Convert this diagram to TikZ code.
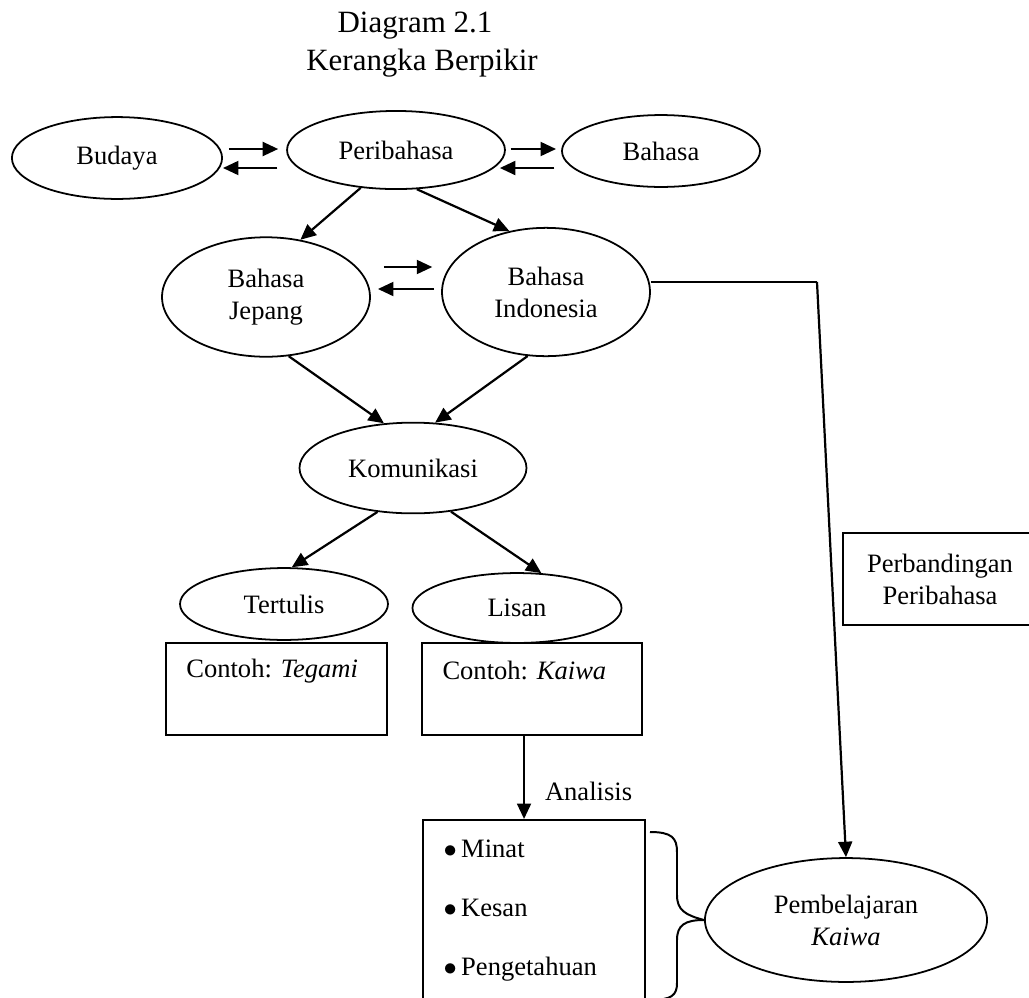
\documentclass[tikz,border=0pt,12pt]{standalone}
\usepackage{fontspec}
\setmainfont{Liberation Serif}
\usetikzlibrary{arrows.meta, positioning, shapes.geometric, calc}

\tikzset{
  oval/.style={draw, ellipse, line width=0.8pt, inner sep=0pt, align=center},
  textbox/.style={draw, rectangle, line width=0.9pt, inner sep=0pt},
  arr/.style={-{Triangle[length=7pt,width=6.3pt]}, line width=1pt},
}

\begin{document}
\begin{tikzpicture}[x=0.452pt, y=-0.452pt]
        \useasboundingbox (0,0) rectangle (1029,998);

        % Title
        \node[font=\fontsize{14}{17}\selectfont, anchor=base] (title) at (415,32) {Diagram 2.1};
        \node[font=\fontsize{14}{17}\selectfont, anchor=base] (subtitle) at (422,70) {Kerangka Berpikir};

        % Top row of ovals
        \node[oval, minimum width=95pt, minimum height=37pt] (budaya) at (117,158) {Budaya};
        \node[oval, minimum width=98.5pt, minimum height=35.3pt] (peri) at (396,150) {Peribahasa};
        \node[oval, minimum width=89.5pt, minimum height=32.5pt] (bahasa) at (661,151) {Bahasa};

        % Two way arrows on the top row
        \draw[arr, shorten <=2.7pt, shorten >=3.6pt] (budaya.east |- 0,149) -- (peri.west |- 0,149);
        \draw[arr, shorten <=4pt] (peri.west |- 0,168) -- (budaya.east |- 0,168);
        \draw[arr, shorten <=2.2pt, shorten >=2.3pt] (peri.east |- 0,149) -- (bahasa.west |- 0,149);
        \draw[arr, shorten <=3pt, shorten >=-2.7pt] (bahasa.west |- 0,168) -- (peri.east |- 0,168);

        % Second row
        \node[oval, minimum width=94pt, minimum height=54pt] (jepang) at (266,297) {Bahasa\\Jepang};
        \node[oval, minimum width=94pt, minimum height=58pt] (indo) at (546,292) {Bahasa\\Indonesia};
        \draw[arr] (peri.227) -- (jepang.59);
        \draw[arr] (peri.298) -- (indo.121);
        \draw[arr, shorten <=5.9pt, shorten >=4pt] (jepang.east |- 0,267) -- (indo.west |- 0,267);
        \draw[arr, shorten <=3.2pt, shorten >=3.2pt] (indo.west |- 0,289) -- (jepang.east |- 0,289);

        % Komunikasi
        \node[oval, minimum width=102.6pt, minimum height=41pt] (komunikasi) at (413,468) {Komunikasi};
        \draw[arr] (jepang.291) -- (komunikasi.123);
        \draw[arr] (indo.254) -- (komunikasi.64);

        % Tertulis and Lisan
        \node[oval, minimum width=94pt, minimum height=32.5pt] (tertulis) at (284,604) {Tertulis};
        \node[oval, minimum width=94.5pt, minimum height=31.6pt] (lisan) at (517,608) {Lisan};
        \draw[arr] (komunikasi.231) -- (tertulis.78);
        \draw[arr] (komunikasi.311) -- (lisan.55);

        % Example boxes
        \node[textbox, minimum width=100pt, minimum height=41.6pt] (tegami) at (276.5,689) {};
        \node[anchor=west, inner sep=0pt] (tegamitext) at ([xshift=9.5pt, yshift=-13pt]tegami.north west) {Contoh: \textit{Tegami}};
        \node[textbox, minimum width=99.4pt, minimum height=41.6pt] (kaiwa) at (532,689) {};
        \node[anchor=west, inner sep=0pt] (kaiwatext) at ([xshift=9.5pt, yshift=-13pt]kaiwa.north west) {Contoh: \textit{Kaiwa}};

        % Analysis result box
        \node[textbox, minimum width=100.3pt, minimum height=85.9pt] (points) at (534,915) {};
        \node[anchor=west, align=left, inner sep=0pt] (items) at ([xshift=9.5pt, yshift=2pt]points.west)
                {$\bullet$\,Minat\\[12.2pt]$\bullet$\,Kesan\\[12.2pt]$\bullet$\,Pengetahuan};
        \draw[arr] ([xshift=-3.6pt]kaiwa.south) -- ([xshift=-3.6pt]kaiwa.south |- points.north)
                node[pos=0.67, right, xshift=5pt] (analisis) {Analisis};

        % Pembelajaran Kaiwa
        \node[oval, minimum width=127.5pt, minimum height=56pt] (pembelajaran) at (846,920) {Pembelajaran\\\textit{Kaiwa}};

        % Comparison box on the right
        \node[textbox, minimum width=87.7pt, minimum height=41.6pt, align=center] (banding) at (940,579) {Perbandingan\\Peribahasa};

        % Long connector from Bahasa Indonesia
        \coordinate (bend) at (817,282);
        \draw[line width=1pt] (indo.east |- bend) -- (bend);
        \draw[arr] (bend) -- (pembelajaran.north);

        % Brace joining the box to Pembelajaran Kaiwa
        \coordinate (cusp) at (pembelajaran.west);
        \draw[line width=0.9pt] (650,832) .. controls (672,832) and (677,838) .. (677,852) -- (677,895)
                .. controls (677,910) and (685,915) .. (cusp);
        \draw[line width=0.9pt] (cusp) .. controls (685,920) and (677,925) .. (677,940) -- (677,983)
                .. controls (677,995) and (672,1000) .. (650,1000);
\end{tikzpicture}
\end{document}
